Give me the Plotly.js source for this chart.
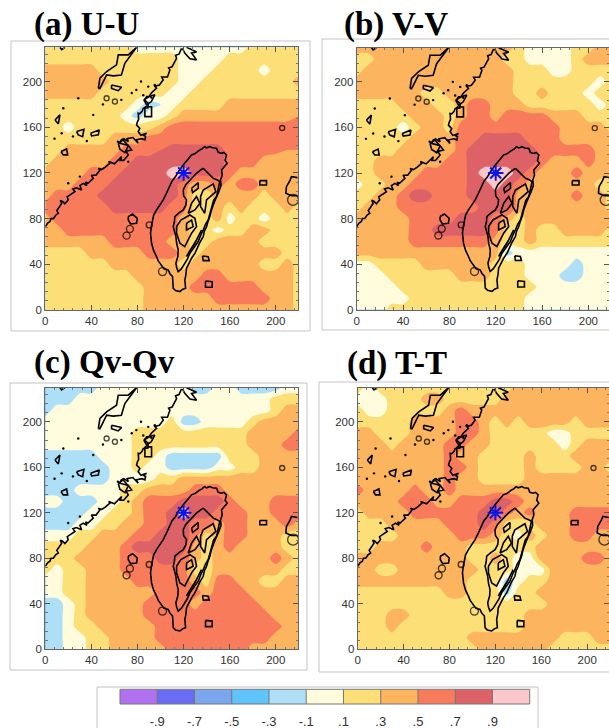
<!DOCTYPE html>
<html><head><meta charset="utf-8">
<script src="https://cdn.plot.ly/plotly-3.0.1.min.js"></script>
<style>html,body{margin:0;padding:0;background:#fff}#g{width:609px;height:728px}</style>
</head><body><div id="g"></div>
<script>
// Grid of x = 0,10..220 and y = 230,220..0. Values are correlation in tenths.
const gridX=[0,10,20,30,40,50,60,70,80,90,100,110,120,130,140,150,160,170,180,190,200,210,220];
const gridY=[230,220,210,200,190,180,170,160,150,140,130,120,110,100,90,80,70,60,50,40,30,20,10,0];
const fieldU=[
[2,2,2,2,2,2,2,2,0,0,0,0,0,0,0,0,0,0,2,2,2,2,2],
[2,2,2,2,2,2,2,2,2,2,2,2,0,0,0,0,2,2,2,2,2,2,2],
[4,4,4,4,4,2,2,2,2,2,2,2,0,0,0,2,2,2,2,0,2,2,2],
[4,4,4,4,4,4,2,2,2,2,2,2,0,0,2,2,2,2,2,2,2,2,4],
[4,4,4,4,4,2,2,2,2,2,2,0,0,2,2,2,2,2,2,2,2,2,2],
[2,2,2,2,2,2,2,2,0,-2,-1,0,2,2,2,2,4,4,4,4,4,4,4],
[2,2,2,2,2,2,2,0,-2,0,0,2,4,4,4,4,4,4,4,4,4,4,5],
[2,2,0,2,2,2,2,2,2,2,4,6,6,6,6,6,6,6,6,6,6,6,6],
[2,2,2,2,2,2,4,4,4,6,6,6,6,6,6,6,6,6,6,6,6,6,6],
[2,2,4,4,4,4,4,6,6,6,7,8,8,8,8,8,6,6,6,6,5.5,5,5],
[2,4,4,4,4,4,6,6,8,8,8,8,8,8,8,8,6,6,6,4,4,4,4],
[4,4,4,4,6,6,6,8,8,8,8,10,10,8,8,7.5,6,4,4,4,4,4,4],
[4,4,4,6,6,6,8,8,8,8,8,8,6,4,4,6,4,6,6,4,4,4,4],
[4,6,6,6,6,8,8,8,8,8,8,8,6,2,2,4,4,4,4,2,4,4,4],
[6,6,6,6,6,6,8,8,8,8,8,6,6,2,2,4,2,4,2,2,2,4,2],
[4,6,6,6,6,6,6,6,6,6,6,6,4,2,2,4,0,2,2,0,2,2,2],
[4,4,6,6,6,6,6,6,6,6,6,6,4,2,2,0,2,2,4,4,2,2,2],
[4,4,4,4,4,4,6,6,6,6,6,4,4,2,2,4,4,4,4,2,2,2,2],
[2,2,2,2,4,4,4,4,4,6,6,6,4,2,4,4,4,4,4,4,4,2,2],
[2,2,2,2,2,2,4,4,4,4,4,4,2,4,4,4,4,4,4,2,2,4,2],
[2,2,2,2,2,2,2,2,4,4,4,4,4,4,6,6,4,4,4,4,4,4,2],
[2,2,2,2,2,2,2,2,2,4,4,4,4,6,6,6,6,6,6,4,4,4,2],
[2,2,2,2,2,2,2,2,2,4,4,4,4,4,4,6,6,6,6,6,4,4,2],
[2,2,2,2,2,2,2,2,2,4,4,4,4,4,4,4,4,4,4,4,4,4,2]];
const fieldV=[
[4,4,4,4,4,4,4,4,4,4,4,4,4,4,2,0,0,0,0,2,2,4,4],
[2,2,4,4,4,4,4,4,4,4,4,4,4,2,2,0,0,0,0,2,4,4,4],
[2,4,4,4,4,4,4,4,4,4,4,4,4,4,2,2,2,0,0,2,2,2,2],
[4,4,4,4,4,4,4,4,4,4,4,4,4,4,2,2,2,2,2,2,2,0,2],
[4,4,4,4,4,4,2,2,4,4,4,4,4,4,2,2,4,2,2,2,0,2,2],
[2,2,2,2,4,4,4,2,2,4,6,6,4,4,4,2,2,2,2,2,2,0,2],
[2,2,2,2,2,4,4,4,2,4,6,6,4,6,6,6,6,4,4,4,2,2,2],
[2,2,2,2,0,2,4,4,2,6,6,6,6,6,6,6,6,6,4,4,4,4,2],
[2,2,2,2,2,4,4,4,4,6,6,8,8,8,8,6,6,6,4,4,4,4,4],
[2,2,2,2,4,4,4,4,4,6,8,8,8,8,8,8,6,6,6,6,6,4,4],
[2,2,4,4,4,4,4,4,6,6,8,8,8,8,8,8,6,4,4,4,6,4,4],
[2,2,4,4,4,4,6,6,6,6,8,10,10,10,8,6,4,4,4,6,4,4,4],
[0,2,2,4,4,6,6,6,6,6,8,8,10,8,6,4,4,4,4,4,4,2,2],
[2,2,4,4,6,8,8,6,6,6,8,8,8,8,4,4,4,4,4,6,4,4,2],
[2,4,4,4,6,6,6,6,6,6,6,8,8,8,4,4,4,4,4,4,4,4,2],
[4,4,4,4,4,6,6,6,6,8,8,8,6,4,2,4,4,4,4,4,4,4,4],
[4,4,4,4,4,6,6,8,8,8,8,8,6,2,2,4,2,2,4,4,4,4,2],
[4,4,4,4,4,6,6,6,6,6,6,6,4,2,2,4,2,2,2,2,2,2,2],
[4,4,4,4,4,4,4,4,4,4,4,4,4,-2,0,0,0,0,0,0,0,0,0],
[0,0,2,2,2,2,4,4,4,4,4,4,2,2,2,0,0,0,0,-2,0,0,0],
[0,0,0,2,2,2,2,2,2,4,4,4,2,2,2,0,0,0,-2,-2,0,0,0],
[0,0,0,0,2,2,2,2,2,2,2,2,2,2,2,2,0,0,0,0,0,0,0],
[0,0,0,0,0,2,2,2,2,2,2,2,2,2,2,0,0,0,0,0,0,0,0],
[0,0,0,2,2,2,2,2,2,2,2,2,2,2,2,0,0,0,0,0,0,0,0]];
const fieldQ=[
[-2,-2,-2,-2,-2,0,0,0,0,0,0,0,0,-2,-2,0,0,-2,-2,-2,-2,0,0],
[-2,-2,-2,0,0,0,0,0,0,0,0,0,0,0,0,0,0,0,0,0,2,2,2],
[-2,0,0,0,0,0,0,0,0,0,0,0,0,0,0,0,0,0,0,0,2,4,4],
[0,0,0,0,0,0,0,0,0,0,0,2,-2,-2,0,0,0,0,2,4,4,4,4],
[0,0,0,0,0,0,0,0,2,2,2,2,2,2,2,2,2,2,4,4,4,4,6],
[0,0,0,0,0,0,0,0,2,2,2,2,2,2,2,2,2,2,4,4,4,6,6],
[-2,-2,-2,-2,-2,0,0,0,2,2,0,-2,-2,-2,-2,-2,2,2,2,4,4,4,4],
[-2,-2,-2,-2,-2,-2,0,0,2,0,0,-2,-2,-2,-2,0,0,2,2,4,4,4,4],
[-2,-2,-2,-2,-2,-2,0,0,0,0,2,2,4,4,4,4,4,4,4,4,4,4,4],
[-2,-2,-2,0,0,0,0,2,2,4,4,4,4,6,6,6,4,4,4,4,4,4,4],
[0,0,-2,-2,-2,0,0,2,4,6,6,6,8,8,8,8,6,4,4,4,6,6,6],
[-2,-2,-2,-2,0,0,2,2,4,6,6,8,10,8,8,6,6,6,4,4,6,6,6],
[-2,-2,-2,0,0,2,2,4,4,6,6,8,8,6,6,4,6,6,4,4,4,6,4],
[0,0,0,2,2,4,4,4,6,6,8,8,8,6,2,4,6,6,4,4,4,2,2],
[2,2,2,2,4,4,4,6,8,8,8,8,8,4,2,4,6,4,4,4,4,2,2],
[2,2,2,4,4,4,4,6,6,6,8,8,6,4,2,4,4,4,4,4,6,4,2],
[2,0,2,2,4,4,4,6,6,6,6,6,6,2,2,4,4,4,4,4,4,2,2],
[0,0,2,2,4,4,4,4,6,6,6,6,6,4,2,6,6,4,4,2,2,4,4],
[0,0,2,2,4,4,4,4,4,4,6,6,6,6,4,6,6,6,4,4,4,4,4],
[-2,-2,0,2,4,4,4,4,4,6,6,6,6,4,6,6,6,6,6,4,4,4,4],
[-2,-2,0,2,4,4,4,4,4,6,6,6,6,6,6,6,6,6,6,6,4,4,4],
[-2,-2,0,2,2,4,4,4,4,4,6,6,6,6,6,6,6,6,6,6,6,4,4],
[-2,-2,0,0,2,2,4,4,4,4,6,6,6,6,6,6,6,6,6,6,4,4,4],
[-2,-2,0,0,2,2,4,4,4,4,4,6,6,6,6,6,6,6,4,4,4,4,4]];
const fieldT=[
[2,0,2,2,2,2,2,2,2,2,2,2,2,2,4,4,4,4,4,4,4,4,4],
[0,0,0,2,2,2,4,4,2,2,2,2,2,4,4,4,4,4,4,4,4,4,4],
[2,0,0,2,2,2,2,2,4,6,4,4,4,4,4,4,4,4,4,4,4,4,4],
[2,2,2,2,2,4,4,4,4,6,6,4,2,4,2,4,4,4,4,2,4,4,4],
[4,4,2,2,2,4,4,4,4,6,6,4,2,2,2,2,2,0,0,2,2,2,2],
[4,4,4,2,4,4,4,4,6,6,4,4,2,2,2,2,2,2,0,2,4,4,4],
[4,4,4,4,4,4,4,4,6,4,4,2,2,2,2,4,2,2,2,4,4,4,4],
[4,4,4,4,4,4,4,4,6,6,4,2,2,2,2,4,2,2,2,2,4,4,2],
[4,4,4,4,4,4,4,4,6,4,4,2,2,2,2,4,4,4,4,4,4,4,4],
[6,4,4,4,4,6,4,4,6,4,4,4,4,4,4,4,4,4,4,4,4,4,4],
[4,4,4,4,6,6,6,4,4,6,6,6,8,8,6,4,4,4,4,4,4,4,4],
[2,4,4,4,4,6,6,6,6,6,6,8,8,6,4,6,4,4,4,6,6,6,6],
[2,2,2,4,4,4,4,4,6,6,6,8,6,2,2,2,4,4,4,6,6,6,6],
[2,2,2,2,4,4,4,4,4,6,6,6,4,2,0,4,2,4,4,6,6,4,4],
[2,2,4,4,4,4,6,4,4,4,2,2,2,2,2,2,4,4,4,4,4,4,4],
[4,4,4,4,4,4,4,4,4,4,2,2,4,2,0,0,4,4,4,4,6,6,4],
[4,4,2,2,4,4,4,4,4,4,4,2,2,2,0,0,0,4,4,4,4,4,4],
[4,4,4,4,4,4,4,4,4,4,2,2,2,-2,0,2,2,4,4,4,4,4,4],
[2,2,2,2,2,2,2,2,4,4,2,2,2,-2,2,2,4,4,4,4,4,4,4],
[2,2,2,2,2,2,2,2,2,2,2,2,2,2,2,2,2,4,4,4,4,4,4],
[2,2,2,4,4,2,2,2,2,2,2,2,2,2,2,4,4,4,4,4,4,4,4],
[2,2,2,4,2,2,2,2,2,2,2,2,2,2,2,4,4,4,4,4,4,4,4],
[2,2,2,2,2,2,2,2,2,2,4,4,4,4,4,4,4,4,2,2,2,4,4],
[2,2,2,2,2,2,2,2,2,2,2,4,4,4,4,4,4,2,2,2,2,2,2]];

const binColors=['#b070f0','#6a6cf6','#7aa6ee','#60c4fc','#ade0f6','#fefcdc','#fddf78','#fcb45e','#f87c5c','#dc6268','#fcc8cc'];
const levelLabels=['-.9','-.7','-.5','-.3','-.1','.1','.3','.5','.7','.9'];
const levelValues=[-.9,-.7,-.5,-.3,-.1,.1,.3,.5,.7,.9];
const binCentres=[-1,-.8,-.6,-.4,-.2,0,.2,.4,.6,.8,1];
const panelTitles=['(a) U-U','(b) V-V','(c) Qv-Qv','(d) T-T'];
const stationX=[120], stationY=[120];

// Coast and terrain outlines in grid units. null separates pieces.
const mainlandX=[0,2,4,5,7,9,11.3,10,12,14.2,13,15,17,19.9,19,22,25.7,24,27,31.5,30,32.9,36,35,37,41.6,40,44,47.4,46,49,52,56.1,55,60,66.2,65,68,72,70,74.9,72,64.7,66,68,72,71,76,80.6,79,84,86.4,87,85,87.9,83,80.6,82,79.2,80,81,80.6,82,84,85,89,89.3,86,87.9,90,92,96.5,95,99,102.3,101,106,108.1,107,110,113.9,113,116,118.2];
const mainlandY=[73,76,77.4,80,80,83,84.7,87,90,93.4,96,95,93,96.4,99,101,103.6,106,107,105.1,109,110.9,109,112,111,115.3,118,118,122.6,124,123,125,128.5,130,128,134.3,131,131,135.8,139,140.1,144,146,149,150,147.4,150,151,146,149,150,148.9,152,153,154.7,153,156.2,159,162,165,167,172.3,172,174,176.6,177,181,184,186.9,187,190,194.2,196,197,201.5,204,204,210.2,212,213,220.4,223,224,229];
const taiwanX=[134.1,136,138,140,142.8,145,148.6,150,152.9,155,157.2,156,157.8,155,152.9,153.5,152,152.5,151.4,150,148.6,147,145.7,144,142.8,141,139.9,138,137,134,132.7,130,126.9,124,122.5,122,121.1,121.7,119,116.8,113,111,110.4,108,106.6,103,100.9,98,96.5,94,92.2,91.3,92,92.8,94,96.5,99,102.3,105,108.1,110,113,116,119.7,123,126.9,130,134.1];
const taiwanY=[140.1,141,143,142,143.1,142,141.6,138,137.2,138,135.8,131,128.5,125,122.6,118,113.9,109,105.1,102,99.3,96,92,87,81.8,77,73,69,64.2,59,55.5,50,45.3,40,36.5,31,26.3,19,18,16.1,17,19,29.2,32,35,36,39.4,43,46.7,52,58.4,67.2,73,78.8,83,87.6,91,96.4,102,108,113,116.8,122,127,131,135.8,137,140.1];
const terrainX=[137,139,141.3,143,145.7,149,151.4,150,148.6,146,144.2,143,141.3,139,137,135,132.7,129,125.4,123,121,118,115.3,114,113.3,115,115.3,114,113.3,111,112,112.4,116,119.7,122,122.5,120,119.7,122,125.4,128,131.2,134,137,null,126.9,132.7,132.7,127.8,126.9,null,134.7,137,145.7,148,139.9,138.3,134.7,134.7,null,113.9,117.6,125.4,129.8,131.2,126.9,121,116.8,113.9,113.9,null,122.5,126.9,128.3,122.5,122.5,null,122.5,129.8,135.5,131.2,124,122.5,null,126.9,131.2,134.1,129.8,124,126.9];
const terrainY=[124.1,122,119.7,118,115.3,114,112.4,106,99.3,96,90.5,85,78.8,75,70,66,59.9,55,49.6,44,40.9,36,33.6,37,40.9,47,52.6,58,64.2,73,77,81.8,85,87.6,92,96.4,100,105.1,110,113.9,117,119.7,122,124.1,null,106.6,111.5,106.6,102.8,106.6,null,99.3,105.1,110.4,103.6,96.4,84.7,90.5,99.3,null,73,78.8,83.2,80.3,73,67.2,55.5,58.4,67.2,73,null,75.9,78.8,73,70,75.9,null,46.7,58.4,70,61.3,49.6,46.7,null,93.4,99.3,93.4,87.6,84.7,93.4];
const islandsX=[119,121,125.5,131.2,126.9,131.2,122.5,null,46,47.4,53.2,61.8,63.3,72,79.2,69,66,59,53.2,47.4,46,null,12.7,14.2,17,null,8.4,12.7,11.3,8.4,null,27.2,33.5,32.4,28.6,27.2,null,39.3,46.8,46,40.2,39.3,null,13.6,18.5,19.4,15.6,13.6,null,57.5,66.2,63.3,57.5,57.5,null,86.4,92.2,92.2,86.4,86.4,null,72,75.7,79.8,79.2,74,72,72,null,136.4,141.3,142.2,137,136.4,null,139,144.8,144.8,139,139,null,186.1,191.9,191.9,186.1,186.1,null,218.8,213.6,212.2,209.2,208.7,213.6,218.8,null,63.3,67.6,72,69.1,64.7,63.3,null,85.5,90.2,95,92,87.9,85.5];
const islandsY=[229,225,220,219,225,226,230,null,194,203,208.8,214.6,223.4,223.4,230,216,205.8,205,205.8,194,194,null,230,228,230,null,166.4,170.8,163,166.4,null,156.2,158.2,151.8,153.3,156.2,null,154.7,157.7,153.3,152.4,154.7,null,138.7,141,135.8,135.8,138.7,null,197,195,192,194,197,null,178,178,169.3,169.3,178,null,81.8,84,80.3,75.9,75.3,78.8,81.8,null,47.3,46.7,43.2,43.2,47.3,null,25.4,24.8,19.9,19.9,25.4,null,113.3,113.3,109.5,109.5,113.3,null,115.9,116.8,113.3,108,102.2,100.1,100.1,null,146,148.9,143.6,137.8,140.7,146,null,184,186.9,188.4,182.5,179.6,184];
const ringX=[73.4,70.5,90.2,101.7,205.5,215,53.2,60.4];
const ringY=[71,65.1,74.5,33.6,159.4,96.4,185.4,182.5];
const ringD=[7,7,6,8,5,11,5,5];
const isletX=[15.6,41.6,28.6,14.2,72,79,85,89.3,95,30,19.9,63,8,24,36,50,66,75,83,92];
const isletY=[176.6,170.8,185.4,154.7,129.9,192.7,188,195.6,197,116.8,111,147.4,150,152,148,180,184,190,200,186];

const W=609,H=728;
const fx=p=>p/W, fy=p=>1-p/H;
// Pixel boxes of the four maps: left, right, top, bottom, and the x value at the right edge.
const boxes=[
 {l:45.3,r:298.3,t:47.3,b:310,xr:219.5},
 {l:356.7,r:609,t:47.7,b:309.7,xr:217.8},
 {l:45.3,r:298.3,t:387.7,b:649.3,xr:219.5},
 {l:357.7,r:609,t:387.7,b:649.3,xr:219}];
const frames=[[11,310,41,331],[322,640,39,330],[10,307,383,670],[319,640,382,672]];
const titleSpots=[[32,25],[342,25],[32,362],[345,363]];
const fields=[fieldU,fieldV,fieldQ,fieldT];

const scale=[];
binColors.forEach((c,i)=>{scale.push([i/11,c]);scale.push([(i+1)/11,c]);});

const traces=[],annotations=[],shapes=[];
const layout={width:W,height:H,margin:{l:0,r:0,t:0,b:0},paper_bgcolor:'#fff',plot_bgcolor:'#fff',showlegend:false};
const lineBase={mode:'lines',hoverinfo:'skip',line:{color:'#000',width:1.6}};
boxes.forEach((b,i)=>{
  const s=i?String(i+1):'';
  const xa='x'+s, ya='y'+s;
  traces.push({type:'contour',x:gridX,y:gridY,z:fields[i].map(r=>r.map(v=>v/10)),xaxis:xa,yaxis:ya,
    colorscale:scale,zmin:-1.1,zmax:1.1,showscale:false,autocontour:false,
    contours:{start:-.9,end:.9,size:.2,coloring:'fill',showlines:false},line:{width:0,smoothing:.9},connectgaps:true});
  [[mainlandX,mainlandY],[taiwanX,taiwanY],[terrainX,terrainY],[islandsX,islandsY]].forEach(([x,y])=>
    traces.push(Object.assign({type:'scatter',x,y,xaxis:xa,yaxis:ya},lineBase)));
  traces.push({type:'scatter',mode:'markers',x:ringX,y:ringY,xaxis:xa,yaxis:ya,hoverinfo:'skip',
    marker:{symbol:'circle-open',size:ringD,color:'#000',line:{width:1.4,color:'#000'}}});
  traces.push({type:'scatter',mode:'markers',x:isletX,y:isletY,xaxis:xa,yaxis:ya,hoverinfo:'skip',
    marker:{symbol:'circle',size:2.4,color:'#000'}});
  traces.push({type:'scatter',mode:'markers',x:stationX,y:stationY,xaxis:xa,yaxis:ya,hoverinfo:'skip',
    marker:{symbol:'asterisk-open',size:13,color:'#0a14e6',line:{width:2,color:'#0a14e6'}}});
  const ax={showgrid:false,zeroline:false,showline:true,linecolor:'#666',linewidth:1,mirror:'ticks',
    ticks:'inside',ticklen:5,tickwidth:1,tickcolor:'#555',dtick:40,tick0:0,
    tickfont:{family:'Liberation Sans',size:11.5,color:'#333'},
    minor:{dtick:8,tick0:0,ticks:'inside',ticklen:2.5,tickwidth:1,tickcolor:'#777'}};
  layout['xaxis'+s]=Object.assign({},ax,{domain:[fx(b.l),fx(b.r)],range:[0,b.xr],anchor:ya});
  layout['yaxis'+s]=Object.assign({},ax,{domain:[fy(b.b),fy(b.t)],range:[0,230],anchor:xa});
  const f=frames[i];
  shapes.push({type:'rect',xref:'paper',yref:'paper',x0:fx(f[0]),x1:fx(f[1]),y0:fy(f[3]),y1:fy(f[2]),line:{color:'#c4c4c4',width:1},layer:'below'});
  annotations.push({xref:'paper',yref:'paper',x:fx(titleSpots[i][0]),y:fy(titleSpots[i][1]),xanchor:'left',yanchor:'middle',showarrow:false,
    text:'<b>'+panelTitles[i]+'</b>',font:{family:'Liberation Serif',size:33,color:'#000'}});
});
// Legend strip
traces.push({type:'heatmap',x:binCentres,y:[0],z:[binCentres],xaxis:'x5',yaxis:'y5',colorscale:scale,zmin:-1.1,zmax:1.1,showscale:false,hoverinfo:'skip'});
layout.xaxis5={domain:[fx(120),fx(529.7)],range:[-1.1,1.1],anchor:'y5',showgrid:false,zeroline:false,showline:false,
  tickmode:'array',tickvals:levelValues,ticktext:levelLabels,ticks:'',ticklabelstandoff:8,tickfont:{family:'Liberation Sans',size:13,color:'#333'}};
layout.yaxis5={domain:[fy(704),fy(689.3)],range:[-.5,.5],anchor:'x5',showgrid:false,zeroline:false,showticklabels:false,ticks:''};
shapes.push({type:'rect',xref:'paper',yref:'paper',x0:fx(97),x1:fx(538),y0:fy(740),y1:fy(687),line:{color:'#c4c4c4',width:1},layer:'below'});
levelValues.forEach(v=>shapes.push({type:'line',xref:'x5',yref:'y5',x0:v,x1:v,y0:-.5,y1:.5,line:{color:'#777',width:1},layer:'above'}));
shapes.push({type:'rect',xref:'paper',yref:'paper',x0:fx(120),x1:fx(529.7),y0:fy(704),y1:fy(689.3),line:{color:'#777',width:1},layer:'above'});
layout.shapes=shapes;layout.annotations=annotations;
Plotly.newPlot('g',traces,layout,{staticPlot:true,displayModeBar:false});
</script></body></html>
